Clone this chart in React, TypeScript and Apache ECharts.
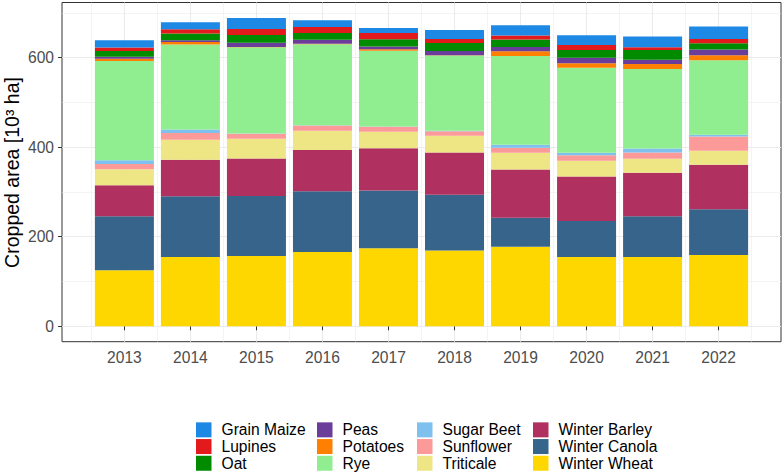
import React, { useEffect, useRef } from "react";
import * as echarts from "echarts";

const years = [2013, 2014, 2015, 2016, 2017, 2018, 2019, 2020, 2021, 2022];

// stacked from bottom to top
const winterWheat = [125, 155, 157, 166, 174.5, 169.5, 177.5, 155, 155, 159.5];
const winterCanola = [121, 135.5, 134, 135.5, 129, 124.5, 65, 80, 91, 102];
const winterBarley = [69, 81.5, 83.5, 92.5, 94, 94, 107.5, 99.5, 97, 99.5];
const triticale = [35.6, 44.5, 44.5, 42.5, 37, 37.8, 37.8, 35.5, 31, 31];
const sunflower = [11.8, 15.5, 10.8, 11.8, 11.2, 10, 11, 11.8, 14, 31.8];
const sugarBeet = [8.2, 7.4, 1, 0.5, 0.5, 1, 6.7, 6, 9, 3.8];
const rye = [222, 190, 192.5, 181, 169, 168, 198, 189.6, 177.8, 166.7];
const potatoes = [5.2, 5.7, 0.5, 1.4, 3.7, 0.5, 11, 10.4, 11, 11.1];
const peas = [4.4, 4, 9.7, 8.9, 5.9, 9.6, 9.6, 11.8, 9.7, 12.6];
const oat = [12.6, 14.8, 17, 14.8, 16.4, 17.8, 16.4, 17.8, 21.4, 14];
const lupines = [8, 9.6, 13.3, 13.4, 14, 8.9, 8.9, 11, 6.6, 9.6];
const grainMaize = [16, 15.6, 25, 15.5, 11, 20, 23, 21.5, 23.7, 28];

const yTicks = [0, 200, 400, 600];
const yMinor = [100, 300, 500, 700];
const xMinor = [2012.5, 2013.5, 2014.5, 2015.5, 2016.5, 2017.5, 2018.5, 2019.5, 2020.5, 2021.5, 2022.5];

const crops = [
  { name: "Winter Wheat", data: winterWheat, color: "#FFD700" },
  { name: "Winter Canola", data: winterCanola, color: "#36648B" },
  { name: "Winter Barley", data: winterBarley, color: "#B03060" },
  { name: "Triticale", data: triticale, color: "#EEE685" },
  { name: "Sunflower", data: sunflower, color: "#FB9A99" },
  { name: "Sugar Beet", data: sugarBeet, color: "#7EC0EE" },
  { name: "Rye", data: rye, color: "#90EE90" },
  { name: "Potatoes", data: potatoes, color: "#FF7F00" },
  { name: "Peas", data: peas, color: "#6A3D9A" },
  { name: "Oat", data: oat, color: "#008B00" },
  { name: "Lupines", data: lupines, color: "#E31A1C" },
  { name: "Grain Maize", data: grainMaize, color: "#1E88E5" },
];

const legendColumns = [
  ["Grain Maize", "Lupines", "Oat"],
  ["Peas", "Potatoes", "Rye"],
  ["Sugar Beet", "Sunflower", "Triticale"],
  ["Winter Barley", "Winter Canola", "Winter Wheat"],
];
const legendLefts = [196, 317, 417, 533];

const FONT = "'Liberation Sans', Arial, sans-serif";

export default function App() {
  const ref = useRef<HTMLDivElement>(null);
  useEffect(() => {
    if (!ref.current) return;
    const chart = echarts.init(ref.current, null, { renderer: "svg" });
    const totals = years.map((_, i) => crops.reduce((s, c) => s + c.data[i], 0));
    const maxT = Math.max(...totals);
    const yMin = -0.05 * maxT;
    const yMax = maxT * 1.05;
    const xMin = 2012.055;
    const xMax = 2022.945;

    const option: any = {
      animation: false,
      backgroundColor: "#FFFFFF",
      textStyle: { fontFamily: FONT },
      grid: {
        left: 62,
        right: 3,
        top: 2.5,
        bottom: 130.3,
        show: true,
        borderColor: "#333333",
        borderWidth: 1,
        backgroundColor: "#FFFFFF",
        containLabel: false,
        outerBoundsMode: "none",
        z: 0,
      },
      xAxis: [
        {
          type: "value",
          min: xMin,
          max: xMax,
          axisLine: { show: false },
          axisTick: { show: true, length: 4, customValues: years, lineStyle: { color: "#333333", width: 1 } },
          axisLabel: {
            show: true,
            customValues: years,
            color: "#4D4D4D",
            fontSize: 15.6,
            fontFamily: FONT,
            margin: 8,
            formatter: (v: number) => String(Math.round(v)),
          },
          splitLine: { show: true, lineStyle: { color: "#EBEBEB", width: 1.1 } },
        },
        {
          type: "value",
          min: xMin,
          max: xMax,
          position: "bottom",
          axisLine: { show: false },
          axisTick: { show: false, customValues: xMinor },
          axisLabel: { show: false, customValues: xMinor },
          splitLine: { show: true, lineStyle: { color: "#EBEBEB", width: 0.55 } },
        },
      ],
      yAxis: [
        {
          type: "value",
          min: yMin,
          max: yMax,
          axisLine: { show: false },
          axisTick: { show: true, length: 4, customValues: yTicks, lineStyle: { color: "#333333", width: 1 } },
          axisLabel: {
            show: true,
            customValues: yTicks,
            color: "#4D4D4D",
            fontSize: 15.6,
            fontFamily: FONT,
            margin: 8,
          },
          splitLine: { show: true, lineStyle: { color: "#EBEBEB", width: 1.1 } },
        },
        {
          type: "value",
          min: yMin,
          max: yMax,
          position: "left",
          axisLine: { show: false },
          axisTick: { show: false, customValues: yMinor },
          axisLabel: { show: false, customValues: yMinor },
          splitLine: { show: true, lineStyle: { color: "#EBEBEB", width: 0.55 } },
        },
      ],
      legend: legendColumns.map((col, i) => ({
        show: true,
        data: col,
        orient: "vertical",
        left: legendLefts[i],
        top: 421.5,
        height: 80,
        padding: 0,
        itemGap: 0,
        itemWidth: 15.5,
        itemHeight: 15,
        icon: "rect",
        selectedMode: false,
        textStyle: {
          color: "#000000",
          fontSize: 15.6,
          fontFamily: FONT,
          lineHeight: 16.7,
          padding: [0, 0, 0, 5],
        },
      })),
      graphic: [
        {
          type: "text",
          x: 11.5,
          y: 172.5,
          rotation: Math.PI / 2,
          style: {
            text: "Cropped area [10³ ha]",
            fill: "#000000",
            font: `19.5px ${FONT}`,
            align: "center",
            verticalAlign: "middle",
          },
        },
      ],
      series: crops.map((c) => ({
        name: c.name,
        type: "bar",
        stack: "total",
        xAxisIndex: 0,
        yAxisIndex: 0,
        barWidth: 59,
        itemStyle: { color: c.color },
        emphasis: { disabled: true },
        encode: { x: 1, y: 0 },
        data: years.map((y, i) => [c.data[i], y]),
      })),
    };
    chart.setOption(option);
    return () => chart.dispose();
  }, []);
  return (
    <div
      ref={ref}
      style={{ position: "absolute", left: 0, top: 0, width: 784, height: 472 }}
    />
  );
}
